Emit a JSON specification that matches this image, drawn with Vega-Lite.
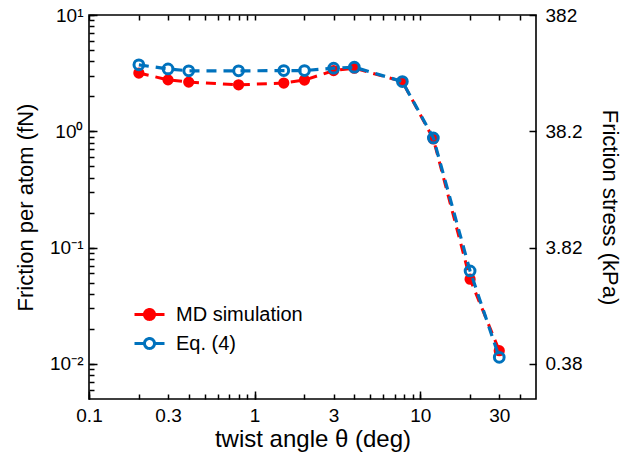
{
  "$schema": "https://vega.github.io/schema/vega-lite/v6.json",
  "width": 447,
  "height": 384,
  "autosize": "none",
  "padding": {"left": 89, "top": 15, "right": 86, "bottom": 63},
  "background": "white",
  "config": {
    "view": {"stroke": "black", "strokeWidth": 1.6},
    "font": "Liberation Sans",
    "axis": {
      "domain": false, "grid": false,
      "labelColor": "black", "titleColor": "black", "labelFont": "Liberation Sans",
      "titleFont": "Liberation Sans", "titleFontWeight": "normal", "labelFontSize": 19, "titleFontSize": 22
    }
  },
  "datasets": {
    "md": [
      {"theta": 0.2, "friction": 3.17, "series": "MD simulation"},
      {"theta": 0.3, "friction": 2.77, "series": "MD simulation"},
      {"theta": 0.4, "friction": 2.65, "series": "MD simulation"},
      {"theta": 0.8, "friction": 2.51, "series": "MD simulation"},
      {"theta": 1.5, "friction": 2.6, "series": "MD simulation"},
      {"theta": 2.0, "friction": 2.76, "series": "MD simulation"},
      {"theta": 3.0, "friction": 3.33, "series": "MD simulation"},
      {"theta": 4.0, "friction": 3.49, "series": "MD simulation"},
      {"theta": 7.8, "friction": 2.68, "series": "MD simulation"},
      {"theta": 12.0, "friction": 0.86, "series": "MD simulation"},
      {"theta": 20.0, "friction": 0.0536, "series": "MD simulation"},
      {"theta": 30.0, "friction": 0.013, "series": "MD simulation"}
    ],
    "eq": [
      {"theta": 0.2, "friction": 3.73, "series": "Eq. (4)"},
      {"theta": 0.3, "friction": 3.44, "series": "Eq. (4)"},
      {"theta": 0.4, "friction": 3.31, "series": "Eq. (4)"},
      {"theta": 0.8, "friction": 3.31, "series": "Eq. (4)"},
      {"theta": 1.5, "friction": 3.33, "series": "Eq. (4)"},
      {"theta": 2.0, "friction": 3.33, "series": "Eq. (4)"},
      {"theta": 3.0, "friction": 3.49, "series": "Eq. (4)"},
      {"theta": 4.0, "friction": 3.56, "series": "Eq. (4)"},
      {"theta": 7.8, "friction": 2.68, "series": "Eq. (4)"},
      {"theta": 12.0, "friction": 0.878, "series": "Eq. (4)"},
      {"theta": 20.0, "friction": 0.063, "series": "Eq. (4)"},
      {"theta": 30.0, "friction": 0.0114, "series": "Eq. (4)"}
    ]
  },
  "resolve": {"axis": {"x": "independent", "y": "independent"}},
  "layer": [
    {
      "data": {"name": "md"},
      "mark": {"type": "line", "strokeDash": [10, 7], "strokeWidth": 3},
      "encoding": {
        "x": {"field": "theta", "type": "quantitative",
          "scale": {"type": "log", "domain": [0.1, 50], "nice": false},
          "axis": {"orient": "bottom", "values": [0.1, 0.3, 1, 3, 10, 30], "ticks": false, "labelPadding": 7,
            "labelExpr": "datum.value < 1 ? format(datum.value, '.1f') : format(datum.value, 'd')",
            "labelFlush": false, "labelOverlap": false,
            "title": "twist angle θ (deg)", "titlePadding": 2, "titleFontSize": 24}},
        "y": {"field": "friction", "type": "quantitative",
          "scale": {"type": "log", "domain": [0.005, 10], "nice": false},
          "axis": {"orient": "left", "values": [0.01, 0.1, 1, 10], "ticks": false, "labelPadding": 6,
            "labelExpr": "datum.value == 10 ? '10¹' : datum.value == 1 ? '10⁰' : datum.value == 0.1 ? '10⁻¹' : '10⁻²'",
            "labelFlush": false, "labelOverlap": false,
            "title": "Friction per atom (fN)", "titlePadding": 12}},
        "stroke": {"field": "series", "type": "nominal",
          "scale": {"domain": ["MD simulation", "Eq. (4)"], "range": ["#ff0000", "#0072bd"]},
          "legend": {
            "title": null, "orient": "none", "legendX": 49, "legendY": 288, "padding": 0,
            "symbolType": "M-1.5,0H-0.55M0.55,0H1.5M-0.5,0A0.5,0.5,0,1,1,0.5,0A0.5,0.5,0,1,1,-0.5,0Z",
            "symbolSize": 400, "symbolStrokeWidth": 3,
            "labelFontSize": 20, "labelFont": "Liberation Sans", "labelColor": "black", "labelOffset": 15, "rowPadding": 6,
            "encode": {"symbols": {"update": {"strokeDash": {"value": [1, 0]}, "opacity": {"value": 1}}}}
          }}
      }
    },
    {
      "data": {"name": "md"},
      "mark": {"type": "point", "filled": true, "shape": "circle", "size": 85, "opacity": 1},
      "encoding": {
        "x": {"field": "theta", "type": "quantitative",
          "axis": {"orient": "top", "labels": false, "title": null, "tickSize": -5, "tickColor": "black", "tickWidth": 1.5,
            "values": [0.1, 0.2, 0.3, 0.4, 0.5, 0.6, 0.7, 0.8, 0.9, 1, 2, 3, 4, 5, 6, 7, 8, 9, 10, 20, 30, 40]}},
        "y": {"field": "friction", "type": "quantitative",
          "axis": {"orient": "right", "values": [0.01, 0.1, 1, 10], "ticks": true, "tickSize": -7, "tickColor": "black", "tickWidth": 1.5, "labelPadding": 16,
            "labelExpr": "datum.value == 10 ? '382' : datum.value == 1 ? '38.2' : datum.value == 0.1 ? '3.82' : '0.38'",
            "labelFlush": false, "labelOverlap": false,
            "title": "Friction stress (kPa)", "titlePadding": 16}},
        "stroke": {"field": "series", "type": "nominal"},
        "fill": {"field": "series", "type": "nominal",
          "scale": {"domain": ["MD simulation", "Eq. (4)"], "range": ["#ff0000", "transparent"]},
          "legend": {
            "title": null, "orient": "none", "legendX": 49, "legendY": 288, "padding": 0,
            "symbolType": "M-1.5,0H-0.55M0.55,0H1.5M-0.5,0A0.5,0.5,0,1,1,0.5,0A0.5,0.5,0,1,1,-0.5,0Z",
            "symbolSize": 400, "symbolStrokeWidth": 3,
            "labelFontSize": 20, "labelFont": "Liberation Sans", "labelColor": "black", "labelOffset": 15, "rowPadding": 6,
            "encode": {"symbols": {"update": {"strokeDash": {"value": [1, 0]}, "opacity": {"value": 1}}}}
          }}
      }
    },
    {
      "data": {"name": "eq"},
      "mark": {"type": "line", "strokeDash": [10, 7], "strokeWidth": 3.2},
      "encoding": {
        "x": {"field": "theta", "type": "quantitative",
          "axis": {"orient": "bottom", "labels": false, "title": null, "tickSize": -5, "tickColor": "black", "tickWidth": 1.5,
            "values": [0.1, 0.2, 0.3, 0.4, 0.5, 0.6, 0.7, 0.8, 0.9, 1, 2, 3, 4, 5, 6, 7, 8, 9, 10, 20, 30, 40]}},
        "y": {"field": "friction", "type": "quantitative",
          "axis": {"orient": "left", "labels": false, "title": null, "tickSize": -5, "tickColor": "black", "tickWidth": 1.5,
            "values": [0.006, 0.007, 0.008, 0.009, 0.01, 0.02, 0.03, 0.04, 0.05, 0.06, 0.07, 0.08, 0.09, 0.1, 0.2, 0.3, 0.4, 0.5, 0.6, 0.7, 0.8, 0.9, 1, 2, 3, 4, 5, 6, 7, 8, 9, 10]}},
        "stroke": {"field": "series", "type": "nominal"}
      }
    },
    {
      "data": {"name": "eq"},
      "mark": {"type": "point", "filled": false, "shape": "circle", "size": 95, "strokeWidth": 3, "opacity": 1},
      "encoding": {
        "x": {"field": "theta", "type": "quantitative",
          "axis": {"orient": "bottom", "labels": false, "title": null, "tickSize": -8, "tickColor": "black", "tickWidth": 1.5, "values": [0.1, 1, 10]}},
        "y": {"field": "friction", "type": "quantitative",
          "axis": {"orient": "left", "labels": false, "title": null, "tickSize": -8, "tickColor": "black", "tickWidth": 1.5, "values": [0.01, 0.1, 1, 10]}},
        "stroke": {"field": "series", "type": "nominal"}
      }
    }
  ]
}
